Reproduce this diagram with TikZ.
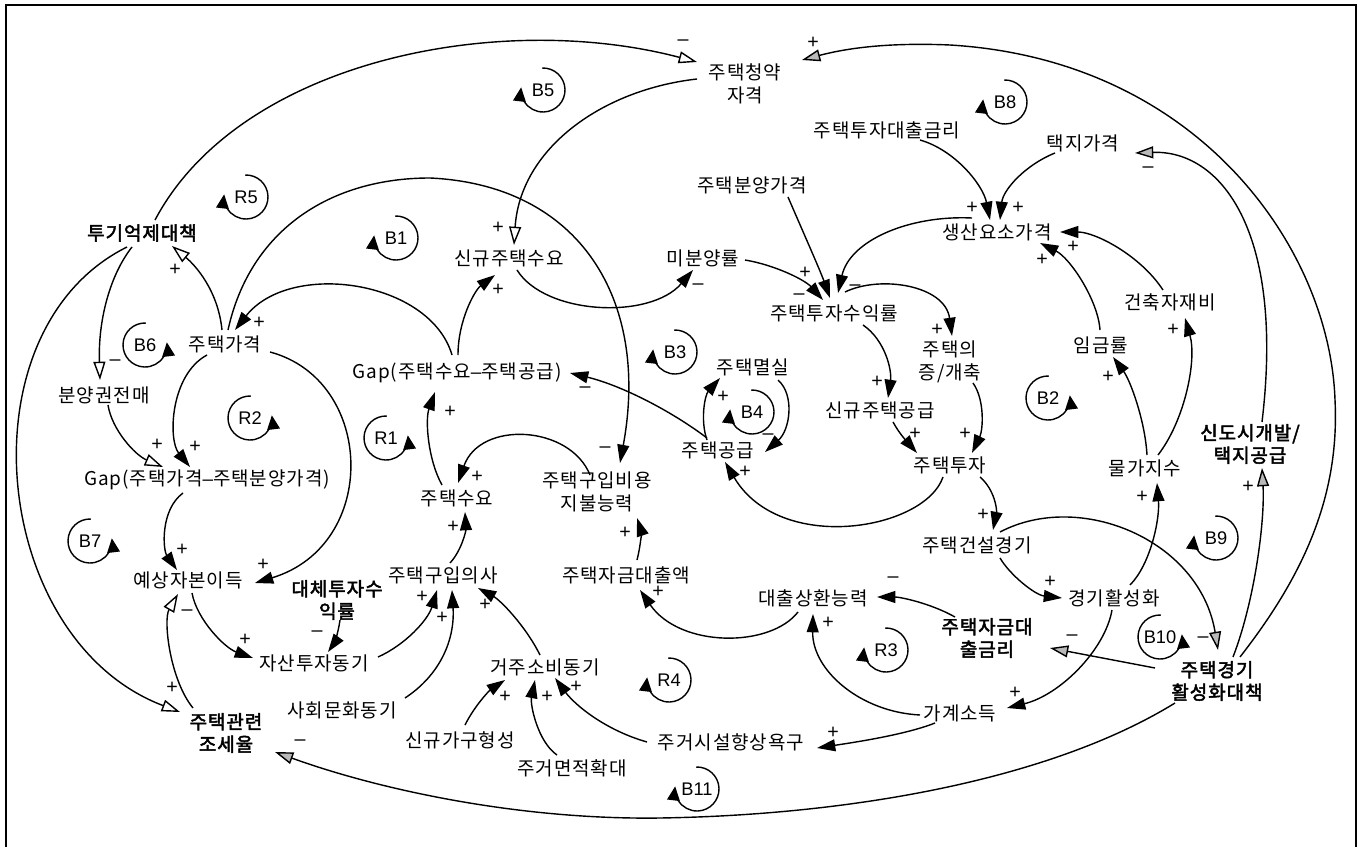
\documentclass[tikz,border=0pt]{standalone}
\usepackage{fontspec}
\usepackage{tikz}
\usetikzlibrary{arrows.meta,calc}
\newfontfamily\korfont{Noto Sans CJK KR}[LetterSpace=5,AutoFakeBold=2.5]
\newfontfamily\latinfont{Liberation Sans}
% loop marks: arrow on the left / on the right
\newcommand{\loopmarkl}[3]{%
  \node[lbl] (#1) at (#2) {#3};
  \draw[loopline] ($(#1.center)+(92:22)$) arc[start angle=92,end angle=-187,radius=22];}
\newcommand{\loopmarkr}[3]{%
  \node[lbl] (#1) at (#2) {#3};
  \draw[loopline] ($(#1.center)+(88:22)$) arc[start angle=88,end angle=367,radius=22];}

\begin{document}
\begin{tikzpicture}[x=0.025cm,y=0.025cm,
    varnode/.style={font=\korfont\fontsize{13.5}{16}\selectfont, inner sep=1pt, align=center},
    polnode/.style={varnode, font=\korfont\bfseries\fontsize{13.5}{16}\selectfont},
    lnk/.style={line width=1pt, -{Triangle[length=13pt,width=8.5pt]}},
    lnko/.style={line width=1pt, -{Triangle[open,length=13pt,width=8.5pt,fill=white]}},
    lnkg/.style={line width=1pt, -{Triangle[length=13pt,width=8.5pt,fill=gray!55]}},
    sgn/.style={font=\latinfont\fontsize{14}{15}\selectfont, inner sep=0pt},
    lbl/.style={font=\latinfont\fontsize{13}{14}\selectfont, inner sep=0pt},
    loopline/.style={line width=1pt, -{Triangle[length=10pt,width=9pt]}}]
    \useasboundingbox (0,0) rectangle (1367,-847);
    \draw[line width=1.2pt] (6,-847) -- (6,-5) -- (1356,-5) -- (1356,-847);

    % Nodes
    \node[varnode] (qual) at (745,-84) {주택청약\\자격};
    \node[varnode] (ilr) at (887,-130) {주택투자대출금리};
    \node[varnode] (land) at (1083,-143) {택지가격};
    \node[varnode] (fac) at (997,-232) {생산요소가격};
    \node[varnode] (sale) at (752,-185) {주택분양가격};
    \node[varnode] (unsold) at (703,-258) {미분양률};
    \node[varnode] (ret) at (834,-313) {주택투자수익률};
    \node[varnode] (ext) at (950,-362) {주택의\\증/개축};
    \node[varnode] (nsup) at (880,-410) {신규주택공급};
    \node[varnode] (inv) at (950,-465) {주택투자};
    \node[varnode] (loss) at (753,-367) {주택멸실};
    \node[varnode] (sup) at (718,-450) {주택공급};
    \node[varnode] (gapd) at (457,-373) {Gap(주택수요{\latinfont\textendash}주택공급)};
    \node[varnode] (ndem) at (509,-258) {신규주택수요};
    \node[varnode] (price) at (225,-344) {주택가격};
    \node[polnode] (spec) at (142,-233) {투기억제대책};
    \node[varnode] (resale) at (104,-395) {분양권전매};
    \node[varnode] (gapp) at (207,-480) {Gap(주택가격{\latinfont\textendash}주택분양가격)};
    \node[varnode] (cap) at (188,-580) {예상자본이득};
    \node[polnode] (alt) at (337,-600) {대체투자수\\익률};
    \node[varnode] (asset) at (314,-663) {자산투자동기};
    \node[varnode] (buy) at (443,-575) {주택구입의사};
    \node[varnode] (dem) at (457,-498) {주택수요};
    \node[varnode] (afford) at (597,-492) {주택구입비용\\지불능력};
    \node[varnode] (loan) at (626,-575) {주택자금대출액};
    \node[varnode] (soc) at (342,-710) {사회문화동기};
    \node[polnode] (tax) at (226,-733) {주택관련\\조세율};
    \node[varnode] (res) at (545,-667) {거주소비동기};
    \node[varnode] (hh) at (460,-740) {신규가구형성};
    \node[varnode] (area) at (572,-768) {주거면적확대};
    \node[varnode] (amen) at (731,-742) {주거시설향상욕구};
    \node[varnode] (repay) at (813,-598) {대출상환능력};
    \node[polnode] (mrate) at (987,-638) {주택자금대\\출금리};
    \node[varnode] (inc) at (960,-713) {가계소득};
    \node[polnode] (boost) at (1217,-681) {주택경기\\활성화대책};
    \node[varnode] (econ) at (1114,-598) {경기활성화};
    \node[varnode] (cons) at (977,-545) {주택건설경기};
    \node[varnode] (cpi) at (1145,-468) {물가지수};
    \node[varnode] (wage) at (1101,-345) {임금률};
    \node[varnode] (mat) at (1170,-302) {건축자재비};
    \node[polnode] (town) at (1250,-444) {신도시개발/\\택지공급};

    % Edges
    \draw[lnko] ($(spec)+(13,13)$) .. controls (240,-60) and (500,-10) .. ($(qual)+(-48,22)$);
    \draw[lnkg] ($(boost)+(23,24)$) .. controls (1300,-580) and (1340,-500) .. (1335,-400)
        .. controls (1330,-250) and (1200,-60) .. (950,-45)
        .. controls (880,-42) and (840,-50) .. ($(qual)+(57,24)$);
    \draw[lnko] ($(qual)+(-48,5)$) .. controls (600,-90) and (520,-150) .. ($(ndem)+(5,13)$);
    \draw[lnk] ($(ilr)+(33,-10)$) .. controls (955,-150) and (983,-185) .. ($(fac)+(-7,12)$);
    \draw[lnk] ($(land)+(-28,-10)$) .. controls (1025,-165) and (1003,-190) .. ($(fac)+(3,12)$);
    \draw[lnkg] ($(town)+(12,22)$) .. controls (1285,-230) and (1220,-150) .. ($(land)+(52,-10)$);
    \draw[lnk] ($(mat)+(-7,12)$) .. controls (1140,-255) and (1095,-232) .. ($(fac)+(63,0)$);
    \draw[lnk] ($(wage)+(-1,15)$) .. controls (1098,-300) and (1070,-258) .. ($(fac)+(43,-11)$);
    \draw[lnk] ($(fac)+(-25,14)$) .. controls (910,-215) and (850,-240) .. ($(ret)+(4,20)$);
    \draw[lnk] ($(ret)+(11,21)$) .. controls (880,-275) and (945,-285) .. ($(ext)+(2,26)$);
    \draw[lnk] ($(unsold)+(42,-2)$) .. controls (775,-265) and (805,-280) .. ($(ret)+(-11,13)$);
    \draw[lnk] ($(sale)+(36,-12)$) .. controls (800,-225) and (820,-270) .. ($(ret)+(-4,15)$);
    \draw[lnk] ($(ndem)+(8,-12)$) .. controls (545,-315) and (650,-320) .. ($(unsold)+(-10,-12)$);
    \draw[lnk] ($(ret)+(29,-12)$) .. controls (885,-340) and (892,-370) .. ($(nsup)+(8,12)$);
    \draw[lnk] ($(ext)+(23,-21)$) .. controls (985,-400) and (983,-430) .. ($(inv)+(22,12)$);
    \draw[lnk] ($(nsup)+(13,-12)$) .. controls (900,-435) and (910,-445) .. ($(inv)+(-33,12)$);
    \draw[lnk] ($(inv)+(-7,-12)$) .. controls (925,-530) and (780,-555) .. ($(sup)+(7,-12)$);
    \draw[lnk] ($(sup)+(-11,10)$) .. controls (700,-420) and (705,-395) .. ($(loss)+(-33,-11)$);
    \draw[lnk] ($(loss)+(25,-13)$) .. controls (795,-395) and (790,-430) .. ($(sup)+(47,-2)$);
    \draw[lnk] ($(sup)+(-11,12)$) .. controls (670,-410) and (620,-385) .. ($(gapd)+(113,0)$);
    \draw[lnk] ($(gapd)+(-5,18)$) .. controls (430,-280) and (290,-260) .. ($(price)+(10,14)$);
    \draw[lnk] ($(gapd)+(1,18)$) .. controls (458,-320) and (475,-290) .. ($(ndem)+(-14,-17)$);
    \draw[lnk] ($(price)+(3,14)$) .. controls (250,-230) and (330,-178) .. (430,-178)
        .. controls (580,-185) and (650,-300) .. ($(afford)+(23,29)$);
    \draw[lnko] ($(price)+(-3,14)$) .. controls (218,-290) and (195,-265) .. ($(spec)+(30,-13)$);
    \draw[lnko] ($(spec)+(-10,-14)$) .. controls (110,-275) and (98,-320) .. ($(resale)+(-4,15)$);
    \draw[lnko] ($(spec)+(-15,-14)$) .. controls (-40,-330) and (-10,-640) .. ($(tax)+(-46,21)$);
    \draw[lnk] ($(price)+(-18,-11)$) .. controls (170,-375) and (168,-440) .. ($(gapp)+(-17,13)$);
    \draw[lnko] ($(resale)+(4,-10)$) .. controls (112,-430) and (135,-455) .. ($(gapp)+(-44,13)$);
    \draw[lnk] ($(price)+(45,-8)$) .. controls (375,-380) and (380,-545) .. ($(cap)+(67,-3)$);
    \draw[lnk] ($(gapp)+(-24,-13)$) .. controls (160,-510) and (163,-550) .. ($(cap)+(-11,10)$);
    \draw[lnko] ($(tax)+(-33,25)$) .. controls (170,-680) and (163,-620) .. ($(cap)+(-10,-14)$);
    \draw[lnk] ($(cap)+(4,-13)$) .. controls (197,-620) and (225,-648) .. ($(asset)+(-61,5)$);
    \draw[lnk] ($(alt)+(3,-20)$) .. controls (338,-635) and (333,-645) .. ($(asset)+(14,11)$);
    \draw[lnk] ($(asset)+(64,6)$) .. controls (405,-645) and (428,-620) .. ($(buy)+(-6,-15)$);
    \draw[lnk] ($(soc)+(63,12)$) .. controls (440,-675) and (455,-640) .. ($(buy)+(9,-15)$);
    \draw[lnk] ($(res)+(-5,12)$) .. controls (525,-625) and (500,-600) .. ($(buy)+(35,-13)$);
    \draw[lnk] ($(buy)+(7,12)$) .. controls (462,-550) and (466,-530) .. ($(dem)+(8,-14)$);
    \draw[lnk] ($(dem)+(-15,13)$) .. controls (428,-460) and (425,-420) .. ($(gapd)+(-22,-19)$);
    \draw[lnk] ($(afford)+(-7,17)$) .. controls (570,-425) and (480,-420) .. ($(dem)+(1,15)$);
    \draw[lnk] ($(loan)+(11,15)$) .. controls (641,-545) and (641,-530) .. ($(afford)+(40,-26)$);
    \draw[lnk] ($(repay)+(-15,-14)$) .. controls (770,-648) and (680,-648) .. ($(loan)+(14,-15)$);
    \draw[lnk] ($(mrate)+(-32,21)$) .. controls (930,-603) and (900,-597) .. ($(repay)+(64,1)$);
    \draw[lnk] ($(inc)+(-40,-2)$) .. controls (860,-712) and (812,-670) .. ($(repay)+(0,-16)$);
    \draw[lnk] ($(inc)+(-25,-10)$) .. controls (905,-735) and (850,-743) .. ($(amen)+(86,-6)$);
    \draw[lnk] ($(amen)+(-84,0)$) .. controls (605,-730) and (575,-705) .. ($(res)+(10,-11)$);
    \draw[lnk] ($(hh)+(5,15)$) .. controls (475,-705) and (490,-690) .. ($(res)+(-40,-13)$);
    \draw[lnk] ($(area)+(-15,13)$) .. controls (538,-742) and (530,-705) .. ($(res)+(-10,-13)$);
    \draw[lnk] ($(cons)+(23,-13)$) .. controls (1010,-575) and (1035,-595) .. ($(econ)+(-52,0)$);
    \draw[lnk] ($(inv)+(30,-12)$) .. controls (995,-490) and (997,-510) .. ($(cons)+(16,15)$);
    \draw[lnkg] ($(cons)+(23,13)$) .. controls (1080,-490) and (1200,-540) .. ($(boost)+(1,31)$);
    \draw[lnk] ($(econ)+(16,13)$) .. controls (1150,-565) and (1160,-520) .. ($(cpi)+(12,-15)$);
    \draw[lnk] ($(econ)+(-2,-12)$) .. controls (1105,-650) and (1060,-695) .. ($(inc)+(47,5)$);
    \draw[lnk] ($(cpi)+(2,13)$) .. controls (1145,-420) and (1130,-380) .. ($(wage)+(12,-12)$);
    \draw[lnk] ($(cpi)+(13,13)$) .. controls (1185,-420) and (1197,-360) .. ($(mat)+(15,-16)$);
    \draw[lnkg] ($(boost)+(-62,13)$) -- ($(mrate)+(63,-10)$);
    \draw[lnkg] ($(boost)+(-42,-22)$) .. controls (1050,-780) and (850,-815) .. (660,-818)
        .. controls (520,-820) and (380,-790) .. ($(tax)+(49,-19)$);
    \draw[lnkg] ($(boost)+(16,24)$) .. controls (1255,-600) and (1265,-520) .. ($(town)+(12,-24)$);

    % Link signs
    \foreach \x/\y/\s [count=\i] in {683/43/\textendash, 813/43/+, 498/228/+, 972/208/+,
        1018/208/+, 1148/170/\textendash, 1073/247/+, 1042/260/+, 855/288/\textendash,
        937/330/+, 805/273/+, 799/297/\textendash, 698/287/\textendash, 877/382/+,
        965/434/+, 915/434/+, 745/472/+, 723/397/+, 768/437/\textendash,
        585/390/\textendash, 259/323/+, 498/290/+, 605/450/\textendash, 175/270/+,
        115/363/\textendash, 172/688/+, 195/447/+, 157/445/+, 263/565/+, 182/550/+,
        187/613/\textendash, 245/640/+, 317/634/\textendash, 422/597/+, 442/618/+,
        485/605/+, 453/527/+, 450/412/+, 477/477/+, 625/533/+, 658/592/+,
        893/580/\textendash, 828/623/+, 833/733/+, 576/687/+, 505/697/+, 547/697/+,
        1050/582/+, 983/515/+, 1203/640/\textendash, 1142/497/+, 1015/693/+,
        1108/377/+, 1173/330/+, 1072/638/\textendash, 300/743/\textendash, 1248/487/+}
        \node[sgn] (sg\i) at (\x,-\y) {\s};

    % Loops
    \loopmarkl{b5}{543,-90}{B5}
    \loopmarkl{r5}{246,-197}{R5}
    \loopmarkl{b1}{396,-238}{B1}
    \loopmarkl{b8}{1005,-102}{B8}
    \loopmarkr{b6}{145,-345}{B6}
    \loopmarkr{r2}{250,-418}{R2}
    \loopmarkr{r1}{386,-438}{R1}
    \loopmarkr{b7}{90,-541}{B7}
    \loopmarkl{b3}{675,-352}{B3}
    \loopmarkl{b4}{752,-412}{B4}
    \loopmarkr{b2}{1048,-398}{B2}
    \loopmarkl{b9}{1216,-538}{B9}
    \loopmarkl{r3}{886,-650}{R3}
    \loopmarkl{r4}{669,-680}{R4}
    \loopmarkl{b11}{697,-789}{B11}
    \loopmarkr{b10}{1160,-637}{B10}
\end{tikzpicture}
\end{document}
